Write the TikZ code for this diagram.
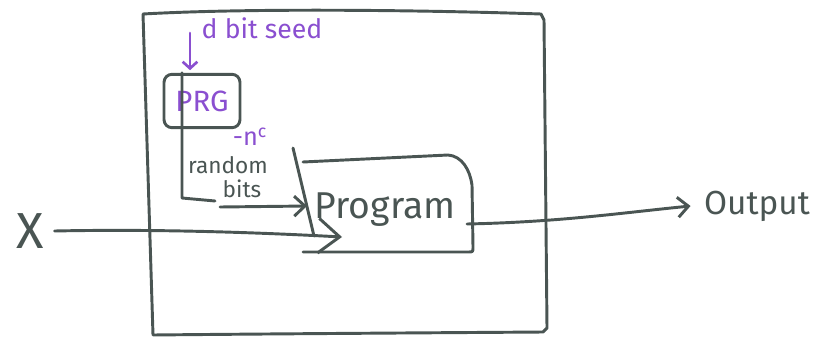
\documentclass[tikz,border=0pt]{standalone}
\usepackage{fontspec}
\setmainfont{Fira Sans}
\usetikzlibrary{arrows.meta}
\definecolor{inkgray}{HTML}{4A5553}
\definecolor{seedpurple}{HTML}{8A4FD0}

\begin{document}
\begin{tikzpicture}[x=0.75pt,y=-0.75pt,
  inkline/.style={draw=inkgray,line width=2.2pt,line cap=round,line join=round},
  seedline/.style={draw=seedpurple,line width=2pt,line cap=round,line join=round},
  barb/.style={-{Straight Barb[length=8pt,width=15pt]}},
  inklabel/.style={text=inkgray,inner sep=0pt},
  seedlabel/.style={text=seedpurple,inner sep=0pt},
]
\useasboundingbox (0,0) rectangle (813,343);

% enclosing box
\draw[inkline] (143,14) .. controls (250,8) and (420,10) .. (541,14) -- (544,20)
  -- (547,328) -- (543,332) .. controls (400,333) and (250,334) .. (153,335) -- cycle;

% pseudo-random generator and its seed
\node[inkline,rounded corners=6pt,minimum width=57pt,minimum height=40pt,
      seedlabel,font=\fontsize{22}{22}\selectfont] (prg) at (202,101) {PRG};
\node[seedlabel,font=\fontsize{20}{20}\selectfont] (seed) at (262,28) {d bit seed};
\coordinate (seedtail) at (190,33);
\draw[seedline,-{Straight Barb[length=5pt,width=11pt]},shorten >=2pt]
  (seedtail) -- (seedtail |- prg.north);

% random bits fed to the program
\node[inklabel,font=\fontsize{17}{17}\selectfont] (rnd) at (228,165) {random};
\node[inklabel,font=\fontsize{17}{17}\selectfont] (bits) at (242,189) {bits};
\node[seedlabel,font=\fontsize{19}{19}\selectfont] (len) at (250,137) {-n\textsuperscript{c}};
\coordinate (rbx) at (182,198);
\coordinate (rbend) at (215,201);
\coordinate (rbstart) at (220,207);
\coordinate (rbtip) at (307,206);
\draw[inkline] (prg.north -| rbx) -- (rbx) -- (rbend);
\draw[inkline,barb] (rbstart) -- (rbtip);

% the program
\node[inklabel,font=\fontsize{28}{28}\selectfont] (prog) at (385,210) {Program};
\draw[inkline] (303,162) -- (448,155) .. controls (462,156) and (470,170) .. (472,185)
  -- (473,247) .. controls (473,252) .. (468,252) -- (303,252);
\draw[inkline] (293,148) -- (314,236);

% input
\node[inklabel,font=\fontsize{38}{38}\selectfont] (xin) at (30,231) {X};
\coordinate (xtip) at (342,237);
\draw[inkline,-{Straight Barb[length=16pt,width=26pt]}]
  ([xshift=8pt]xin.east) .. controls (150,229) and (250,232) .. (xtip);

% output
\node[inklabel,font=\fontsize{25}{25}\selectfont] (out) at (757,206) {Output};
\coordinate (progR) at (467,224);
\draw[inkline,barb] (progR) .. controls (560,222) and (620,213) .. ([xshift=-10pt]out.west);
\end{tikzpicture}
\end{document}
